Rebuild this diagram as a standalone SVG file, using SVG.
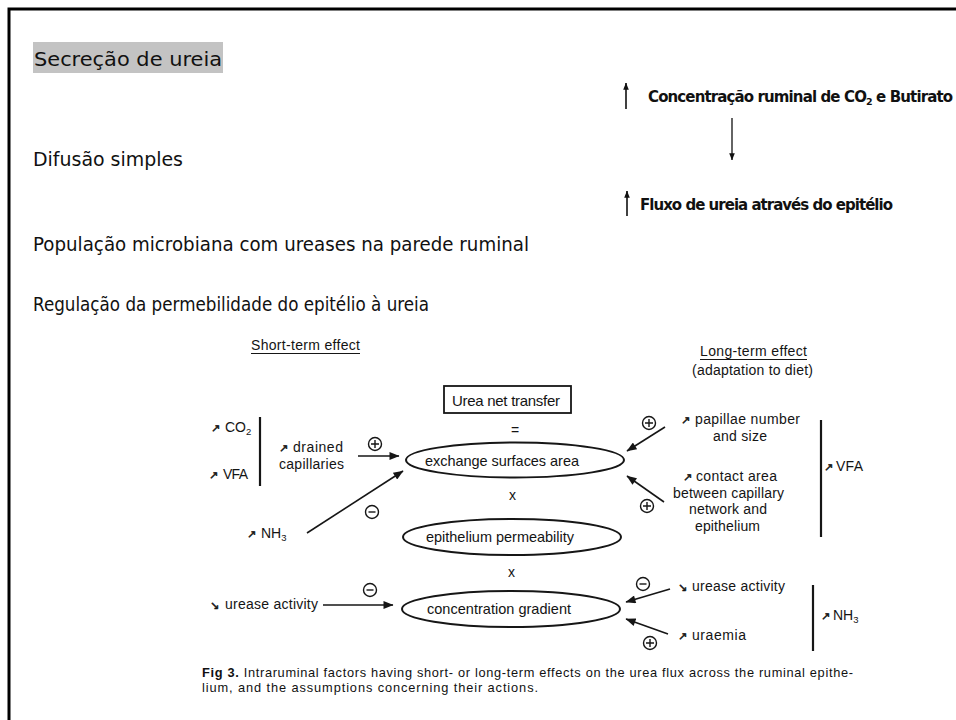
<svg xmlns="http://www.w3.org/2000/svg" width="956" height="720" viewBox="0 0 956 720">
  <style>
    .slide { font-family: "DejaVu Sans", "Liberation Sans", sans-serif; font-size: 19px; fill: #111; }
    .hand { font-family: "DejaVu Sans", "Liberation Sans", sans-serif; font-weight: bold; font-size: 15px; fill: #111; }
    .fig { font-family: "Liberation Sans", Arial, sans-serif; font-size: 14px; fill: #141414; }
    .mid { font-size: 14.5px; }
    .sub { font-size: 9.5px; }
    .dir { font-family: "DejaVu Sans", sans-serif; font-size: 11px; fill: #161616; stroke: #161616; stroke-width: 0.5; }
    .cap { font-family: "Liberation Sans", Arial, sans-serif; font-size: 12.8px; fill: #111; }
    .ln { stroke: #161616; stroke-width: 1.6; fill: none; }
    .bar { stroke: #161616; stroke-width: 2.2; fill: none; }
    .ell { fill: none; stroke: #161616; stroke-width: 2; }
    .sign { fill: none; stroke: #161616; stroke-width: 1.4; }
    .box { fill: none; stroke: #161616; stroke-width: 1.8; }
  </style>
  <defs>
    <marker id="head" viewBox="0 0 10 8" refX="9.5" refY="4" markerWidth="11" markerHeight="8" markerUnits="userSpaceOnUse" orient="auto">
      <path d="M0 0 L10 4 L0 8 Z" fill="#161616"/>
    </marker>
    <marker id="headS" viewBox="0 0 10 8" refX="9.5" refY="4" markerWidth="7" markerHeight="6" markerUnits="userSpaceOnUse" orient="auto">
      <path d="M0 0 L10 4 L0 8 Z" fill="#111"/>
    </marker>
    <g id="plus" class="sign"><circle r="6.5"/><path d="M-4 0H4M0 -4V4"/></g>
    <g id="minus" class="sign"><circle r="6.5"/><path d="M-3.5 0H3.5"/></g>
  </defs>

  <rect width="956" height="720" fill="#fff"/>
  <!-- slide frame -->
  <rect x="9" y="9" width="962" height="730" fill="none" stroke="#000" stroke-width="3"/>

  <!-- slide bullet lines -->
  <g id="title">
    <rect x="33" y="42" width="190" height="31" fill="#c3c3c3"/>
    <text class="slide" x="34" y="66" textLength="188" lengthAdjust="spacingAndGlyphs">Secreção de ureia</text>
  </g>
  <g id="line-difusao"><text class="slide" x="33" y="166" textLength="150" lengthAdjust="spacingAndGlyphs">Difusão simples</text></g>
  <g id="line-populacao"><text class="slide" x="33" y="251" textLength="496" lengthAdjust="spacingAndGlyphs">População microbiana com ureases na parede ruminal</text></g>
  <g id="line-regulacao"><text class="slide" x="33" y="311" textLength="396" lengthAdjust="spacingAndGlyphs">Regulação da permebilidade do epitélio à ureia</text></g>

  <!-- top-right cause/effect note -->
  <g id="note-co2">
    <line x1="626" y1="109" x2="626" y2="83" stroke="#111" stroke-width="1.6" marker-end="url(#headS)"/>
    <text class="hand" x="648" y="102" textLength="305">Concentração ruminal de CO<tspan class="sub" dy="3">2</tspan><tspan dy="-3"> e Butirato</tspan></text>
  </g>
  <g id="note-fluxo">
    <line x1="627" y1="216" x2="627" y2="191" stroke="#111" stroke-width="1.6" marker-end="url(#headS)"/>
    <text class="hand" x="640" y="210" textLength="253">Fluxo de ureia através do epitélio</text>
  </g>
  <g id="note-link">
    <line x1="732" y1="118" x2="732" y2="160" stroke="#111" stroke-width="1.3" marker-end="url(#headS)"/>
  </g>

  <!-- figure: headings -->
  <g id="head-short">
    <text class="fig" x="251" y="350" textLength="109">Short-term effect</text>
    <line x1="251" y1="353.5" x2="360" y2="353.5" stroke="#161616" stroke-width="1"/>
  </g>
  <g id="head-long">
    <text class="fig" x="700" y="356" textLength="107">Long-term effect</text>
    <line x1="700" y1="359.5" x2="807" y2="359.5" stroke="#161616" stroke-width="1"/>
    <text class="fig" x="692" y="375" textLength="121">(adaptation to diet)</text>
  </g>

  <!-- figure: central product -->
  <g id="urea-net">
    <rect class="box" x="444" y="386" width="127" height="27"/>
    <text class="fig" style="font-size:15px" x="452" y="406" textLength="108">Urea net transfer</text>
    <text class="fig" x="511" y="435">=</text>
  </g>
  <g id="exchange-area">
    <ellipse class="ell" cx="515" cy="460" rx="109" ry="17.5"/>
    <text class="fig mid" x="425" y="466" textLength="154">exchange surfaces area</text>
  </g>
  <text class="fig" x="509" y="500">x</text>
  <g id="permeability">
    <ellipse class="ell" cx="512" cy="537" rx="109" ry="18"/>
    <text class="fig mid" x="426" y="542" textLength="148">epithelium permeability</text>
  </g>
  <text class="fig" x="508" y="577">x</text>
  <g id="gradient">
    <ellipse class="ell" cx="511" cy="609" rx="109" ry="18"/>
    <text class="fig mid" x="427" y="614" textLength="144">concentration gradient</text>
  </g>

  <!-- figure: short-term factors -->
  <g id="st-co2-vfa">
    <text class="dir" x="211" y="432">↗</text>
    <text class="fig" x="225" y="432">CO<tspan class="sub" dy="3">2</tspan></text>
    <text class="dir" x="209" y="479">↗</text>
    <text class="fig" x="223" y="479" textLength="25">VFA</text>
    <line class="bar" x1="260" y1="417" x2="260" y2="486"/>
  </g>
  <g id="st-drained">
    <text class="dir" x="279" y="452">↗</text>
    <text class="fig" x="293" y="452" textLength="50">drained</text>
    <text class="fig" x="279" y="469" textLength="65">capillaries</text>
  </g>
  <g id="st-nh3">
    <text class="dir" x="247" y="538">↗</text>
    <text class="fig" x="261" y="538">NH<tspan class="sub" dy="3">3</tspan></text>
  </g>
  <g id="st-urease">
    <text class="dir" x="210" y="609">↘</text>
    <text class="fig" x="225" y="609" textLength="93">urease activity</text>
  </g>

  <!-- figure: long-term factors -->
  <g id="lt-papillae">
    <text class="dir" x="681" y="424">↗</text>
    <text class="fig" x="695" y="424" textLength="105">papillae number</text>
    <text class="fig" x="713" y="441" textLength="54">and size</text>
  </g>
  <g id="lt-contact">
    <text class="dir" x="683" y="481">↗</text>
    <text class="fig" x="696" y="481" textLength="81">contact area</text>
    <text class="fig" x="673" y="498" textLength="111">between capillary</text>
    <text class="fig" x="689" y="514" textLength="78">network and</text>
    <text class="fig" x="695" y="531" textLength="65">epithelium</text>
  </g>
  <g id="lt-vfa">
    <line class="bar" x1="821" y1="420" x2="821" y2="537"/>
    <text class="dir" x="824" y="471">↗</text>
    <text class="fig" x="836" y="471" textLength="27">VFA</text>
  </g>
  <g id="lt-urease">
    <text class="dir" x="678" y="591">↘</text>
    <text class="fig" x="692" y="591" textLength="93">urease activity</text>
  </g>
  <g id="lt-uraemia">
    <text class="dir" x="678" y="640">↗</text>
    <text class="fig" x="692" y="640" textLength="54">uraemia</text>
  </g>
  <g id="lt-nh3">
    <line class="bar" x1="813" y1="585" x2="813" y2="651"/>
    <text class="dir" x="821" y="620">↗</text>
    <text class="fig" x="833" y="620">NH<tspan class="sub" dy="3">3</tspan></text>
  </g>

  <!-- connectors with their +/- signs -->
  <g id="connectors">
    <line class="ln" x1="358" y1="456" x2="399" y2="456" marker-end="url(#head)"/>
    <use href="#plus" x="375" y="444"/>
    <line class="ln" x1="307" y1="533" x2="403" y2="471" marker-end="url(#head)"/>
    <use href="#minus" x="372" y="512"/>
    <line class="ln" x1="323" y1="605" x2="393" y2="605" marker-end="url(#head)"/>
    <use href="#minus" x="370" y="590"/>

    <line class="ln" x1="665" y1="427" x2="627" y2="451" marker-end="url(#head)"/>
    <use href="#plus" x="649" y="423"/>
    <line class="ln" x1="664" y1="502" x2="627" y2="476" marker-end="url(#head)"/>
    <use href="#plus" x="647" y="506"/>
    <line class="ln" x1="670" y1="589" x2="626" y2="602" marker-end="url(#head)"/>
    <use href="#minus" x="643" y="584"/>
    <line class="ln" x1="668" y1="634" x2="626" y2="619" marker-end="url(#head)"/>
    <use href="#plus" x="650" y="643"/>
  </g>

  <!-- figure caption -->
  <g id="caption">
    <text class="cap" x="202" y="677" textLength="651"><tspan font-weight="bold">Fig 3.</tspan> Intraruminal factors having short- or long-term effects on the urea flux across the ruminal epithe-</text>
    <text class="cap" x="202" y="692" textLength="336">lium, and the assumptions concerning their actions.</text>
  </g>
</svg>
